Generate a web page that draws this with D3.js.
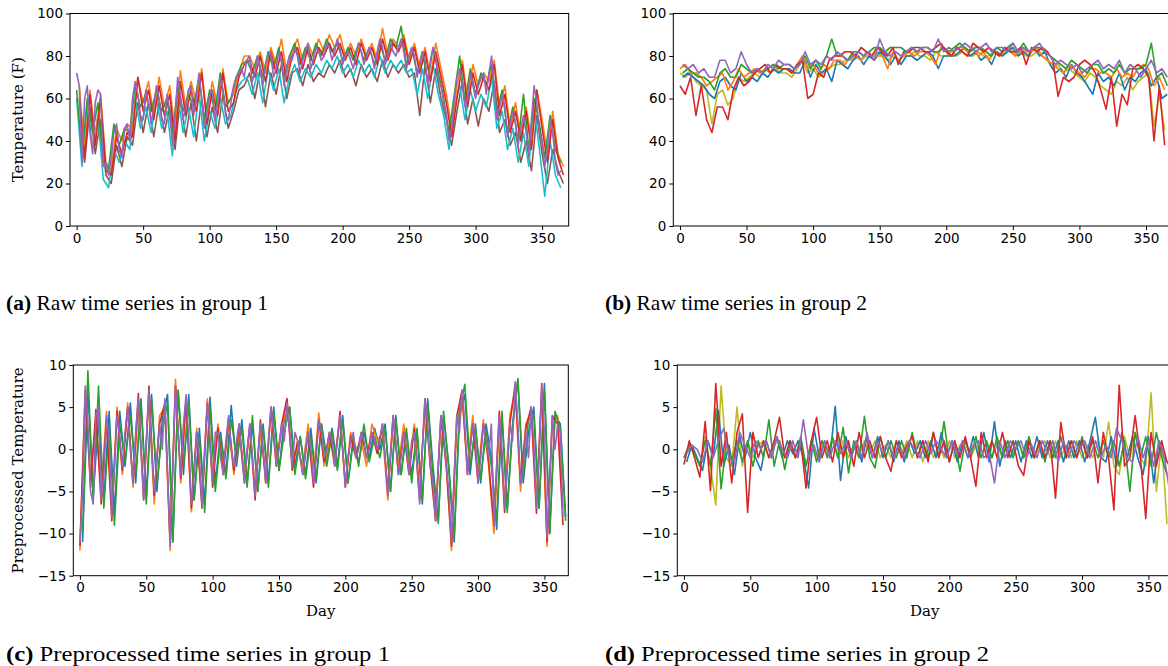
<!DOCTYPE html>
<html>
<head>
<meta charset="utf-8">
<script src="https://cdn.jsdelivr.net/npm/d3@7"></script>
<style>
  body { margin: 0; background: #fff; }
  svg { display: block; }
  .tick text { font-family: "DejaVu Sans", sans-serif; font-size: 13.5px; fill: #000; }
  .tick line { stroke: #000; }
  .domain { display: none; }
  .lbl { font-family: "DejaVu Serif", serif; font-size: 15px; fill: #000; }
  .cap { font-family: "Liberation Serif", "DejaVu Serif", serif; font-size: 21.5px; fill: #000; }
</style>
</head>
<body>
<div id="chart"></div>
<script>
const xTicks = [0, 50, 100, 150, 200, 250, 300, 350];
const rawTicks = [0, 20, 40, 60, 80, 100];
const preTicks = [-15, -10, -5, 0, 5, 10];

// most series are read every 4 days, the top (purple) one every 2 days
// (a) raw, group 1
const rawG1Brown = [50,30,56,34,50,24,20,38,28,42, 38,58,44,58,42,58,44,56,36,60, 42,58,40,60,42,56,44,62,46,54, 64,66,72,60,74,56,72,62,76,60, 72,74,66,76,68,72,70,76,72,78, 70,74,66,76,70,74,68,78,70,76, 72,76,70,72,52,76,58,74,60,50, 38,54,68,48,60,47,60,54,68,44, 50,38,44,30,40,26,52,34,20,36, 26,20];
const rawG1Cyan = [60,28,58,36,52,22,18,36,30,40, 36,60,46,56,44,60,46,54,33,62, 44,56,42,62,40,54,46,60,48,52, 64,68,70,62,72,58,74,64,74,58, 70,76,68,74,70,76,72,78,74,80, 72,76,70,78,72,76,70,80,72,78, 74,78,72,74,62,74,60,76,62,52, 36,56,66,50,64,54,62,56,70,46, 54,36,46,30,44,28,56,36,14,40, 24,18];
const rawG1Orange = [66,36,64,42,62,30,26,46,40,48, 46,70,58,68,52,70,56,66,44,73, 56,68,58,74,52,68,56,74,58,62, 72,80,80,74,82,72,84,76,88,72, 82,88,78,86,80,88,82,90,84,90, 80,86,80,88,80,86,78,93,80,88, 84,90,78,86,74,84,70,86,74,62, 46,66,78,60,76,66,72,68,78,56, 66,46,58,42,56,40,64,50,34,54, 34,28];
const rawG1Green = [64,34,60,44,58,30,27,48,38,46, 44,66,56,62,54,64,54,60,42,66, 54,62,56,70,50,64,54,72,56,60, 70,76,78,72,80,70,82,74,84,70, 80,86,76,84,78,86,80,88,82,86, 78,84,78,86,78,84,76,86,78,88, 84,94,76,84,72,82,68,84,72,60, 44,62,80,58,74,62,72,66,76,54, 64,44,56,40,62,36,60,48,32,52, 36,30];
const rawG1Red = [60,32,62,38,60,26,24,42,34,44, 42,70,54,64,50,66,52,62,40,68, 52,64,54,72,48,64,52,72,54,58, 70,76,78,70,80,68,82,72,82,68, 80,84,74,84,76,84,80,86,80,86, 78,84,76,86,78,84,76,88,78,86, 82,88,76,84,72,82,68,82,70,58, 42,60,76,56,72,62,70,64,76,52, 62,44,54,40,54,36,64,46,30,50, 32,24];
const rawG1Purple = [72,66,30,60,66,44,34,58,64,62, 28,30,24,32,44,48,36,32,46,48, 40,60,68,62,52,50,64,58,48,56, 66,60,50,48,62,54,38,52,70,62, 50,56,64,66,52,60,72,60,46,54, 62,64,50,58,70,64,52,50,58,66, 70,72,74,70,78,80,68,72,80,74, 66,76,80,82,70,74,82,78,66,74, 80,78,84,80,72,78,82,86,74,78, 84,82,78,80,86,84,78,82,88,84, 76,80,82,78,74,80,86,82,76,80, 84,80,74,82,88,84,76,80,86,82, 80,84,88,82,74,80,84,80,70,76, 82,78,66,78,84,80,68,66,58,52, 40,46,60,70,74,66,56,60,72,66, 60,66,70,72,62,72,80,66,50,56, 62,56,42,48,54,48,38,46,52,44, 34,50,66,58,44,40,28,36,50,44, 30,24,26];

// (b) raw, group 2
const rawG2Olive = [72,70,72,68,66,64,48,62,64,57, 60,70,68,70,72,70,74,72,74,72, 72,70,74,78,72,74,70,72,74,76, 76,78,78,80,78,80,80,82,80,78, 80,78,80,80,82,80,80,78,82,80, 80,82,80,82,80,80,82,80,80,82, 80,82,84,80,82,80,80,82,80,78, 74,76,72,74,72,70,68,72,70,66, 64,62,68,66,70,64,68,70,72,47, 62,45];
const rawG2Blue = [70,72,70,68,66,62,60,68,70,66, 64,72,68,70,68,72,70,74,72,74, 74,72,72,78,70,76,72,74,68,78, 76,74,78,80,76,80,78,82,80,76, 80,76,80,80,78,80,82,80,74,80, 80,80,82,84,80,82,78,80,76,82, 80,82,84,80,82,80,84,80,82,76, 72,74,70,76,72,70,66,62,72,68, 70,66,72,64,70,68,72,74,66,70, 60,62];
const rawG2Orange = [74,76,72,72,70,66,68,70,72,64, 68,74,70,72,74,72,74,72,76,74, 74,72,76,80,74,76,72,76,74,78, 78,76,80,80,78,82,80,80,80,74, 82,78,80,82,80,82,82,80,76,84, 82,80,84,84,82,84,80,82,78,82, 80,84,82,80,84,82,82,84,80,78, 76,74,72,76,74,72,70,74,74,72, 72,70,74,70,72,70,74,76,74,66, 70,64];
const rawG2Green = [72,74,72,70,70,68,64,72,74,70, 70,76,74,72,74,72,74,76,74,76, 76,74,76,80,74,78,74,80,88,80, 80,78,82,82,80,82,84,84,82,84, 84,84,82,84,82,84,84,82,82,84, 82,84,86,84,82,84,84,82,80,84, 82,84,86,82,86,82,84,84,82,80, 78,76,74,78,76,74,72,76,76,72, 74,72,76,72,74,74,74,76,86,70, 72,66];
const rawG2Red = [66,62,70,52,66,50,44,56,56,50, 64,70,66,68,72,74,76,72,76,74, 74,72,76,78,60,62,72,70,78,80, 80,82,82,80,84,82,80,84,82,80, 84,76,82,82,84,84,82,82,84,86, 82,80,84,82,80,86,84,82,84,82, 80,84,82,82,84,76,84,82,84,82, 78,61,70,68,70,76,78,76,72,64, 55,70,47,62,57,74,76,74,70,40, 66,38];
const rawG2Purple = [76,74,76,72,74,70,70,78,78,72, 74,82,76,72,74,72,76,74,78,76, 76,74,76,82,76,78,76,80,78,82, 80,78,80,82,80,82,78,88,82,80, 82,80,82,84,82,84,84,82,88,82, 84,82,84,86,84,82,84,86,82,84, 84,82,86,82,84,82,84,86,82,80, 76,78,76,74,76,72,74,76,78,74, 76,74,78,72,76,74,70,74,78,72, 74,70];

// (c) preprocessed, group 1
const preG1Blue = [-11,7,-5.5,3.5,-6,4.5,-7.5,4.5,-2,5.5, -4,6,-5.5,6.5,-5,3.5,6.5,-11,7,-3, 6.5,-6,2.5,-6.5,6.2,-4,2,-3,5.2,-2, 3.5,-4,3,-5,3,-4,5,-2.5,3.5,5, -2,1.5,-3,2.5,-4,3,-1,2.5,-2,4, -4,1,-1.5,2,-1,2.5,0,3,-5,4, -3,2,-3,2,-6.5,6,-2,-8.5,4,-2, -11,4,6.5,-3,3,-4,3,-1,-9.5,4, -7,3,8.2,-4,2,5,-7,7.8,-10,4, 3,-8];
const preG1Orange = [-12,6,-3,3,-5,4.5,-7,5,-3,5.5, -4.5,5,-5,6,-6.5,4,5,-12,8.3,-4, 5.8,-7.4,2.5,-6,6,-3,3,-2,3,-3, 2,-3,2.5,-4.5,2,-3,4.5,-1,2,6, -1,0,-2,3,-3,4.3,-2,1,-1,3.5, -4,2,0,1,-2,3,1,2,-6,3.5, -2,3,-2,3,-5,5,-1,-8,3.5,-1, -12,3,6,-2,4,-3,3.5,-2,-10,3, -6,4,7,-5,3,4.5,-6,6.5,-11.5,3.5, 4,-7];
const preG1Green = [-10,9.3,-6,7.5,-7,3,-9,3,-1.5,4, -3,5.5,-6.5,6,-4,2,5.5,-11,7,-2, 5.5,-6,1.5,-7.5,5,-5,1.5,-3.5,3.5,-1, 2.5,-4.5,4,-5,2.5,-4.5,4.5,-2.5,2,5, -3,1.5,-3.5,1.5,-3.5,3,-2,2,-2.5,3.5, -4,1.5,-2,3,-1.5,1.5,-1,2.5,-5,3.5, -3,2.5,-4,2.5,-6,5.5,-3,-8.8,4.5,-2.5, -10.5,4.5,7.7,-2,2.5,-3.5,2,-2,-8.5,4.5, -7.5,2.5,8.4,-3.5,3.5,4,-7,7,-10,4.5, 2.5,-8.5];
const preG1Red = [-11.5,7,-4.5,4.7,-6.5,3.5,-8.5,4.5,-2.5,5, -4,6.6,-6,7.5,-5.5,3,5.5,-11,7.5,-3.5, 6,-7,2,-7,5.5,-4.5,2.5,-3,3.5,-2.5, 3,-4,3,-6,3.5,-4,5,-2,3,6, -2.5,1,-3,2,-4.5,3.5,-1.5,2,-2,4.5, -4.5,1.5,-1,2,-1,2,-0.5,3,-5,4, -3,2,-3,2.5,-6,6,-2,-8.5,4,-2, -11.5,4,7,-3,3,-4,3,-1.5,-9,4.5, -7.5,3,7.8,-4,2.5,5,-7.6,7.8,-11,4, 3,-9];
const preG1Purple = [-11,-5,7.5,3,-5,-6.5,4,5,-6,-3, 4,1,-8,-2,4,1.5,-2,2,5,0, -4,2,6,0,-6,1,7,0,-5,-1, 3,0,6,-3,-11.5,-2,7.5,2,-3,3, 6.5,1,-6.5,-3,2,-1,-7,0,5.5,1, -4,2,2,-1,-3,1,4,0,-2,1, 3,-1,-4,0,3,-1,-5.5,-1,3,0, -4,1,5,2,-2,0,3,1,5.5,2, -2,2,1,-1,-3,0,2,0,-4,-1, 3.5,2,-1,0,2,1,-2,1,4,0, -4.5,-1,1,2,-1,0,2,1,-1,0, 2,1,0,1,3,-1,-5.5,-1,4,1, -3,-1,2,0,-3,1,2,-2,-6.5,0, 6,3,-2,-4,-8.5,-2,4,2,-2,-5, -11,-3,4,2,7,3,-3,0,3,1, -4,-1,3,1,-1,3,-9,-2,4,0, -7,-2,3,1,8,3,-4,-2,2,-1, 5,1,-7,-1,7.5,2,-10.5,-4,4,0, 3,2,-8];

// (d) preprocessed, group 2
const preG2Olive = [-1,0.5,-0.5,-2,1.5,-2,-6.6,7.5,-1,-2, 5,-2,1,-1,0.5,1,-1,0.5,1,-1, 0.5,-1,1,-2,1,-1,1,-0.5,1,-1, 1,-1,0.5,-1,1,-0.5,1,-1,0.5,-1, 1,-0.5,1,-1,1,-1.5,1,-1,0.5,-1, 1,-1,0.5,1,-1,0.5,-1,1,-1,0.5, -1,1,-0.5,1,-1,1,-1,0.5,1,-1, 1,-1,0.5,-1,1,-1,0.5,-1,1,-1, 3.2,-2,-3,1.5,-1,2,-1,-2,6.7,-5, 1,-8.9];
const preG2Blue = [-1.5,0.5,-1,-2.5,1,-1,4.6,-2,0.5,-3, 1.5,-1,2,-1,-2.5,1,-1,1.5,-1,1, -0.5,1,-1,-4.6,2.5,-1,1,-1,5.1,-3.7, 1.5,-1,1,-1.5,1.5,-1,1.5,-1,1,-1.5, 1,-1.5,1,-0.5,1,-1,1,-1,2,-1, 1,-1.5,1,-1,1.5,-1,2,-1.5,3.3,-2, 1,-1,1,-1.5,1,-1,1.5,-1,1,-1, 1,-1.5,1,-1,1,-1.5,1,3.8,-1,-1.5, 1.5,-2,2,-1,1.5,-1,-3,1.5,-4,1, -1,-2];
const preG2Green = [-1,0.5,-0.5,-2,1,-2,4.8,-4.7,1,-1.5, 1,-1.5,1,-2,1,-1,3.5,-2,1,-2.4, 1,-1,1.5,-2,1,-1.5,1,-1,1.5,-1, 2.6,-2.8,1,-1,3.9,-1,-2.2,1.5,-1,1, -1,1,-1,2,-1,1,-1,2,-1,3.3, -1.5,1,-2.6,1,-1,1.5,-1,1,-1,1.5, -1,1,-1,1,-1,1.5,-1,1,-1.5,1, -1,1.5,-1,1,-1,1.5,-1,1,-1,1, -1,1,-2,1,-5,2,-1,1.5,-2,2, -1,-3];
const preG2Red = [-1.8,1,-1,-3.3,3.3,-4.9,7.8,-2,2,-4, 2,4.2,-7.5,2,-1,1,-1,1,3.8,-1, 1,-1,1,-4.6,1,3.8,-1,1,-1.5,2, -1,1,-2,2,-1,1,-1,1.5,-1,-2.6, 1,-1,0.5,1.5,-1,1,-1.5,2,-1,1, -1.5,1,-1,1.5,-1,-4.4,2,-1,1,-1, 2,-1,1,-2,-3.1,1,-1,1,-1,1, -5.8,3.2,-1,1,-1,1,-1,1.5,-4,2, -1,-7.2,7.6,-2,-1,4,-1,-8.2,2,-2, 1,-1.5];
const preG2Purple = [-0.5,0.5,0,-1.5,1,-1,1,2.5,-1,-1.5, 2,0.5,-1,1,0,1,-1,1.5,0,-1, 1,-1,3.5,-1,0.5,-1.5,1,-1,1,-0.5, 1,-1,1,-1,2,-1,1,-0.5,1,-1, 0.5,-1,1,0,-1,1,-0.5,1,0,-1, 1,-0.5,1,-1,0.5,1,-1,-0.5,-4,1, -1,1,0,1,-1,0.5,-1,1,-0.5,1, -1.5,1,-1,1,0,1,-1,1,-1,0.5, -1,2.5,1,-1,-1.5,1.5,-1,1,-2,1, -1,-5];

const c = {
  blue: "#1f77b4", orange: "#ff7f0e", green: "#2ca02c", red: "#d62728", purple: "#9467bd",
  brown: "#8c564b", olive: "#bcbd22", cyan: "#17becf"
};

// each series: values, colour, first day, day step
const panels = [
  { left: 70, right: 568.7, top: 13.5, bottom: 226, xDomain: [-5, 370], yDomain: [0, 100], yTicks: rawTicks,
    ylabel: "Temperature (F)", xlabel: null, tag: "(a)", caption: " Raw time series in group 1", capX: 6, capY: 310, capW: 262,
    series: [[rawG1Brown, c.brown, 2, 4], [rawG1Cyan, c.cyan, 0, 4], [rawG1Orange, c.orange, 2, 4],
             [rawG1Green, c.green, 0, 4], [rawG1Red, c.red, 2, 4], [rawG1Purple, c.purple, 0, 2]] },
  { left: 673.3, right: 1171.3, top: 13.5, bottom: 226, xDomain: [-5, 369], yDomain: [0, 100], yTicks: rawTicks,
    ylabel: null, xlabel: null, tag: "(b)", caption: " Raw time series in group 2", capX: 605, capY: 310, capW: 262,
    series: [[rawG2Olive, c.olive, 0, 4], [rawG2Blue, c.blue, 2, 4], [rawG2Orange, c.orange, 0, 4],
             [rawG2Green, c.green, 2, 4], [rawG2Red, c.red, 0, 4], [rawG2Purple, c.purple, 2, 4]] },
  { left: 73.3, right: 568.3, top: 365, bottom: 575.7, xDomain: [-5, 368], yDomain: [-15, 10], yTicks: preTicks,
    ylabel: "Preprocessed Temperature", xlabel: "Day", tag: "(c)", caption: " Preprocessed time series in group 1", capX: 6, capY: 661, capW: 384,
    series: [[preG1Blue, c.blue, 2, 4], [preG1Orange, c.orange, 0, 4], [preG1Green, c.green, 2, 4],
             [preG1Red, c.red, 0, 4], [preG1Purple, c.purple, 0, 2]] },
  { left: 677.3, right: 1172.3, top: 365, bottom: 575.7, xDomain: [-5, 368], yDomain: [-15, 10], yTicks: preTicks,
    ylabel: null, xlabel: "Day", tag: "(d)", caption: " Preprocessed time series in group 2", capX: 605, capY: 661, capW: 384,
    series: [[preG2Olive, c.olive, 0, 4], [preG2Blue, c.blue, 2, 4], [preG2Green, c.green, 0, 4],
             [preG2Red, c.red, 0, 4], [preG2Purple, c.purple, 2, 4]] }
];

document.addEventListener("DOMContentLoaded", function () {
  const svg = d3.select("#chart").append("svg")
    .attr("width", 1168)
    .attr("height", 666);

  panels.forEach((p, k) => {
    const w = p.right - p.left;
    const h = p.bottom - p.top;
    const g = svg.append("g").attr("transform", `translate(${p.left},${p.top})`);

    const x = d3.scaleLinear().domain(p.xDomain).range([0, w]);
    const y = d3.scaleLinear().domain(p.yDomain).range([h, 0]);

    g.append("clipPath").attr("id", "clip" + k)
      .append("rect").attr("width", w).attr("height", h);

    const lines = g.append("g").attr("clip-path", `url(#clip${k})`);
    p.series.forEach(([vals, col, start, step]) => {
      const line = d3.line()
        .x((d, i) => x(start + i * step))
        .y(d => y(d));
      lines.append("path")
        .datum(vals)
        .attr("d", line)
        .attr("fill", "none")
        .attr("stroke", col)
        .attr("stroke-width", 1.6)
        .attr("stroke-linejoin", "round");
    });

    // axes
    g.append("g")
      .attr("transform", `translate(0,${h})`)
      .call(d3.axisBottom(x).tickValues(xTicks).tickSize(4).tickPadding(3).tickSizeOuter(0));
    g.append("g")
      .call(d3.axisLeft(y).tickValues(p.yTicks).tickSize(4).tickPadding(3).tickSizeOuter(0)
        .tickFormat(d => d < 0 ? "\u2212" + Math.abs(d) : d));

    // frame
    g.append("rect")
      .attr("width", w).attr("height", h)
      .attr("fill", "none").attr("stroke", "#000").attr("stroke-width", 1);

    if (p.ylabel) {
      g.append("text").attr("class", "lbl")
        .attr("transform", `translate(${18 - p.left},${h / 2}) rotate(-90)`)
        .attr("text-anchor", "middle")
        .attr("dy", "0.35em")
        .text(p.ylabel);
    }
    if (p.xlabel) {
      g.append("text").attr("class", "lbl")
        .attr("x", w / 2).attr("y", h + 40)
        .attr("text-anchor", "middle")
        .text(p.xlabel);
    }

    // sub-figure caption, stretched to the width it has in the figure
    const cap = svg.append("text").attr("class", "cap")
      .attr("x", p.capX).attr("y", p.capY)
      .attr("textLength", p.capW)
      .attr("lengthAdjust", "spacingAndGlyphs");
    cap.append("tspan").attr("font-weight", "bold").text(p.tag);
    cap.append("tspan").text(p.caption);
  });
});
</script>
</body>
</html>
